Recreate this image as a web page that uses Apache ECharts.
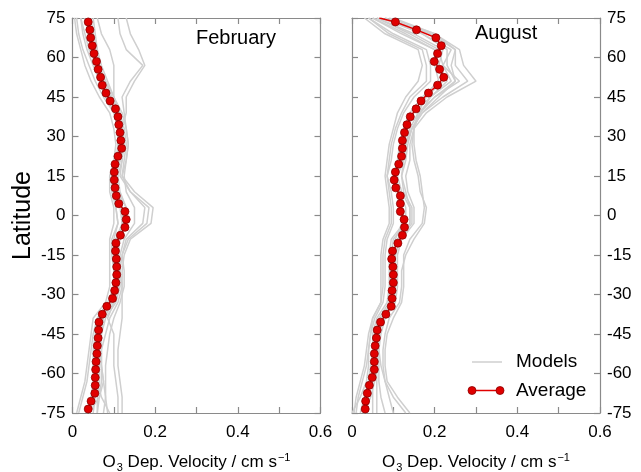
<!DOCTYPE html>
<html>
<head>
<meta charset="utf-8">
<script src="https://cdn.jsdelivr.net/npm/echarts@6/dist/echarts.min.js"></script>
<style>html,body{margin:0;padding:0;background:#fff}#c{width:641px;height:472px}</style>
</head>
<body>
<div id="c"></div>
<script>
// ---------- data ----------
const latAvg = [73.5,70.5,67.5,64.5,61.5,58.5,55.5,52.5,49.5,46.5,43.5,40.5,37.5,34.5,31.5,28.5,25.5,22.5,19.5,16.5,13.5,10.5,7.5,4.5,1.5,-1.5,-4.5,-7.5,-10.5,-13.5,-16.5,-19.5,-22.5,-25.5,-28.5,-31.5,-34.5,-37.5,-40.5,-43.5,-46.5,-49.5,-52.5,-55.5,-58.5,-61.5,-64.5,-67.5,-70.5,-73.5];
const febAvg = [0.038,0.042,0.044,0.048,0.052,0.058,0.062,0.068,0.072,0.081,0.091,0.104,0.110,0.112,0.115,0.117,0.119,0.110,0.103,0.101,0.101,0.103,0.106,0.112,0.127,0.130,0.127,0.116,0.105,0.104,0.106,0.107,0.107,0.105,0.102,0.097,0.083,0.072,0.064,0.063,0.062,0.060,0.059,0.057,0.056,0.055,0.055,0.054,0.045,0.038];
const augAvg = [0.105,0.156,0.203,0.216,0.207,0.199,0.212,0.222,0.207,0.185,0.167,0.155,0.141,0.133,0.127,0.122,0.122,0.120,0.113,0.105,0.102,0.106,0.117,0.117,0.117,0.126,0.127,0.122,0.111,0.098,0.096,0.099,0.100,0.100,0.097,0.097,0.095,0.082,0.069,0.061,0.059,0.056,0.054,0.054,0.054,0.049,0.042,0.037,0.033,0.032];
const augAvgTop = [0.066, 75];

const latModel = [75,69,63,57,51,45,39,33,27,21,15,9,3,-3,-9,-15,-21,-27,-33,-39,-45,-51,-57,-63,-69,-75];
const febModels = [
  [0.005,0.01,0.02,0.03,0.045,0.065,0.09,0.10,0.105,0.10,0.09,0.09,0.10,0.10,0.09,0.09,0.09,0.09,0.08,0.05,0.045,0.04,0.035,0.03,0.02,0.01],
  [0.01,0.015,0.025,0.04,0.055,0.075,0.10,0.11,0.11,0.105,0.095,0.095,0.105,0.11,0.095,0.095,0.10,0.10,0.085,0.06,0.05,0.045,0.04,0.035,0.025,0.015],
  [0.02,0.025,0.035,0.05,0.065,0.08,0.105,0.115,0.12,0.115,0.105,0.11,0.13,0.13,0.11,0.105,0.105,0.105,0.09,0.065,0.06,0.055,0.05,0.05,0.045,0.04],
  [0.03,0.04,0.05,0.06,0.075,0.09,0.11,0.115,0.12,0.115,0.10,0.10,0.115,0.12,0.105,0.10,0.10,0.10,0.095,0.07,0.065,0.06,0.06,0.06,0.055,0.05],
  [0.04,0.045,0.05,0.06,0.075,0.095,0.115,0.12,0.125,0.12,0.115,0.14,0.185,0.18,0.135,0.12,0.115,0.115,0.105,0.08,0.07,0.065,0.065,0.065,0.06,0.06],
  [0.05,0.055,0.06,0.07,0.085,0.10,0.115,0.125,0.13,0.125,0.12,0.15,0.195,0.19,0.14,0.125,0.12,0.12,0.11,0.09,0.08,0.07,0.07,0.07,0.065,0.06],
  [0.045,0.05,0.06,0.065,0.08,0.10,0.12,0.13,0.135,0.13,0.12,0.14,0.175,0.17,0.13,0.12,0.125,0.125,0.115,0.10,0.09,0.085,0.08,0.08,0.08,0.075],
  [0.11,0.115,0.13,0.17,0.14,0.12,0.125,0.13,0.135,0.13,0.125,0.13,0.15,0.15,0.125,0.115,0.115,0.11,0.10,0.075,0.07,0.07,0.07,0.075,0.08,0.085],
  [0.13,0.14,0.16,0.175,0.15,0.13,0.13,0.12,0.12,0.115,0.105,0.11,0.12,0.125,0.11,0.11,0.11,0.11,0.10,0.085,0.10,0.10,0.10,0.105,0.11,0.11],
  [0.02,0.03,0.04,0.06,0.08,0.095,0.11,0.11,0.11,0.11,0.10,0.10,0.105,0.11,0.10,0.10,0.10,0.10,0.09,0.065,0.055,0.05,0.05,0.06,0.07,0.09],
  [0.035,0.04,0.045,0.055,0.07,0.085,0.10,0.11,0.115,0.11,0.10,0.11,0.12,0.12,0.11,0.11,0.115,0.12,0.12,0.12,0.115,0.11,0.11,0.115,0.12,0.12],
  [0.06,0.07,0.09,0.10,0.10,0.10,0.105,0.115,0.12,0.12,0.11,0.115,0.13,0.13,0.115,0.11,0.11,0.11,0.095,0.07,0.065,0.065,0.07,0.075,0.065,0.04]
];
const augModels = [
  [0.03,0.08,0.16,0.17,0.16,0.13,0.11,0.10,0.09,0.085,0.08,0.085,0.09,0.09,0.075,0.07,0.07,0.07,0.07,0.05,0.04,0.035,0.03,0.02,0.01,0.005],
  [0.04,0.10,0.18,0.19,0.19,0.15,0.125,0.11,0.10,0.095,0.085,0.095,0.10,0.10,0.085,0.08,0.08,0.08,0.075,0.055,0.045,0.04,0.035,0.025,0.015,0.01],
  [0.05,0.12,0.20,0.20,0.21,0.17,0.14,0.125,0.115,0.11,0.10,0.11,0.12,0.125,0.095,0.09,0.09,0.09,0.085,0.06,0.05,0.05,0.045,0.04,0.03,0.02],
  [0.06,0.15,0.22,0.21,0.23,0.19,0.15,0.135,0.125,0.12,0.105,0.115,0.13,0.13,0.10,0.095,0.095,0.095,0.09,0.065,0.055,0.055,0.05,0.045,0.04,0.035],
  [0.07,0.17,0.24,0.22,0.26,0.20,0.16,0.14,0.13,0.125,0.11,0.12,0.14,0.14,0.11,0.10,0.10,0.10,0.095,0.07,0.06,0.055,0.055,0.05,0.05,0.05],
  [0.08,0.19,0.25,0.25,0.28,0.22,0.17,0.145,0.135,0.13,0.12,0.125,0.145,0.145,0.115,0.105,0.105,0.105,0.10,0.075,0.065,0.06,0.06,0.06,0.06,0.06],
  [0.09,0.20,0.26,0.27,0.30,0.23,0.18,0.15,0.14,0.14,0.13,0.135,0.15,0.15,0.12,0.11,0.11,0.11,0.105,0.08,0.07,0.065,0.065,0.065,0.07,0.08],
  [0.06,0.14,0.21,0.22,0.24,0.19,0.165,0.15,0.145,0.15,0.16,0.165,0.18,0.175,0.15,0.13,0.12,0.12,0.115,0.09,0.08,0.075,0.075,0.08,0.09,0.10],
  [0.05,0.13,0.20,0.21,0.22,0.18,0.16,0.15,0.15,0.155,0.165,0.17,0.175,0.17,0.14,0.125,0.125,0.125,0.12,0.10,0.085,0.08,0.08,0.085,0.11,0.14],
  [0.10,0.20,0.25,0.24,0.25,0.21,0.17,0.145,0.13,0.12,0.105,0.11,0.12,0.12,0.105,0.10,0.10,0.10,0.095,0.075,0.065,0.065,0.07,0.08,0.10,0.13],
  [0.04,0.09,0.17,0.18,0.18,0.14,0.12,0.105,0.095,0.09,0.085,0.09,0.095,0.095,0.08,0.075,0.075,0.075,0.07,0.05,0.045,0.04,0.04,0.035,0.02,0.0],
  [0.08,0.17,0.23,0.23,0.25,0.20,0.165,0.145,0.13,0.125,0.12,0.13,0.14,0.14,0.115,0.105,0.105,0.105,0.10,0.07,0.06,0.06,0.06,0.055,0.045,0.03]
];

const xTickLabels = ['0','0.2','0.4','0.6'];
const yTickLabels = ['-75','-60','-45','-30','-15','0','15','30','45','60','75'];
const panelTitles = ['February','August'];
const legendNames = ['Models','Average'];

// ---------- styling ----------
const FONT = 'Liberation Sans, Arial, Helvetica, sans-serif';
const FRAME = '#8a8a8a';
const GRAY = '#cfcfcf';
const RED = '#e00000';

function xLabel(v){ const i = Math.round(v*10); return i % 2 === 0 ? xTickLabels[i/2] : ''; }
function yLabel(v){ return yTickLabels[Math.round((v + 75)/15)]; }

function xAx(grid, pos, withLabels){
  const a = {
    gridIndex: grid, type: 'value', min: 0, max: 0.6, interval: 0.1, position: pos,
    axisLine: {show: true, onZero: false, lineStyle: {color: FRAME, width: 1.2}},
    axisTick: {show: true, inside: true, length: 6, lineStyle: {color: FRAME, width: 1.2}},
    axisLabel: {show: withLabels, formatter: xLabel, color: '#000', fontSize: 17, fontFamily: FONT, margin: 11, showMinLabel: true, showMaxLabel: true, hideOverlap: false},
    splitLine: {show: false}
  };
  if (withLabels) {
    a.name = '{n|O}{s|3}{n| Dep. Velocity / cm s}{p|\u22121}';
    a.nameLocation = 'middle';
    a.nameGap = 37;
    a.nameTextStyle = {
      color: '#000', fontFamily: FONT,
      rich: {
        n: {fontSize: 17, fontFamily: FONT, color: '#000', lineHeight: 24, verticalAlign: 'middle'},
        s: {fontSize: 11, fontFamily: FONT, color: '#000', lineHeight: 24, verticalAlign: 'bottom', padding:[0,0,1,1]},
        p: {fontSize: 11, fontFamily: FONT, color: '#000', lineHeight: 24, verticalAlign: 'top', padding:[2,0,0,1]}
      }
    };
  }
  return a;
}
function yAx(grid, pos, withLabels, name){
  const a = {
    gridIndex: grid, type: 'value', min: -75, max: 75, interval: 15, position: pos,
    axisLine: {show: true, onZero: false, lineStyle: {color: FRAME, width: 1.2}},
    axisTick: {show: true, inside: true, length: 6, lineStyle: {color: FRAME, width: 1.2}},
    axisLabel: {show: withLabels, formatter: yLabel, color: '#000', fontSize: 17, fontFamily: FONT, margin: 7, showMinLabel: true, showMaxLabel: true, hideOverlap: false},
    splitLine: {show: false}
  };
  if (name) {
    a.name = name; a.nameLocation = 'middle'; a.nameGap = 37; a.nameRotate = 90;
    a.nameTextStyle = {color: '#000', fontSize: 25, fontFamily: FONT};
  }
  return a;
}

const series = [];
function addPanel(models, avg, xi, yi, top){
  models.forEach((m, k) => {
    series.push({
      type: 'line', xAxisIndex: xi, yAxisIndex: yi, name: legendNames[0] + (k+1),
      data: latModel.map((lat, i) => [m[i], lat]),
      symbol: 'none', silent: true, clip: true, z: 2,
      lineStyle: {color: GRAY, width: 1.5}
    });
  });
  const d = latAvg.map((lat, i) => [avg[i], lat]);
  if (top) d.unshift({value: top, symbolSize: 0});
  series.push({
    type: 'line', xAxisIndex: xi, yAxisIndex: yi, name: legendNames[1],
    data: d, symbol: 'circle', symbolSize: 8, clip: true, z: 5,
    lineStyle: {color: RED, width: 1.5},
    itemStyle: {color: RED, borderColor: '#8c0000', borderWidth: 0.8}
  });
}
addPanel(febModels, febAvg, 0, 0, null);
addPanel(augModels, augAvg, 2, 3, augAvgTop);

const option = {
  animation: false,
  backgroundColor: '#fff',
  grid: [
    {left: 72.5, top: 18, width: 248, height: 395, outerBoundsMode: 'none', containLabel: false},
    {left: 352, top: 18, width: 248, height: 395, outerBoundsMode: 'none', containLabel: false}
  ],
  xAxis: [xAx(0,'bottom',true), xAx(0,'top',false), xAx(1,'bottom',true), xAx(1,'top',false)],
  yAxis: [yAx(0,'left',true,'Latitude'), yAx(0,'right',false), yAx(1,'left',false), yAx(1,'right',true)],
  series: series,
  graphic: [
    {type:'text', left: 196, top: 28, style:{text: panelTitles[0], font: '20px ' + FONT, fill:'#000'}},
    {type:'text', left: 475, top: 23, style:{text: panelTitles[1], font: '20px ' + FONT, fill:'#000'}},
    {type:'line', shape:{x1:472, y1:362, x2:502, y2:362}, style:{stroke: GRAY, lineWidth: 1.5}},
    {type:'text', x: 516, y: 362, style:{text: legendNames[0], font: '19px ' + FONT, fill:'#000', verticalAlign:'middle'}},
    {type:'line', shape:{x1:472, y1:390.5, x2:500, y2:390.5}, style:{stroke: RED, lineWidth: 1.5}},
    {type:'circle', shape:{cx:472, cy:390.5, r:4}, style:{fill: RED, stroke:'#8c0000', lineWidth:0.8}},
    {type:'circle', shape:{cx:500, cy:390.5, r:4}, style:{fill: RED, stroke:'#8c0000', lineWidth:0.8}},
    {type:'text', x: 516, y: 390.5, style:{text: legendNames[1], font: '19px ' + FONT, fill:'#000', verticalAlign:'middle'}}
  ]
};
const chart = echarts.init(document.getElementById('c'), null, {renderer: 'canvas'});
chart.setOption(option);
</script>
</body>
</html>
